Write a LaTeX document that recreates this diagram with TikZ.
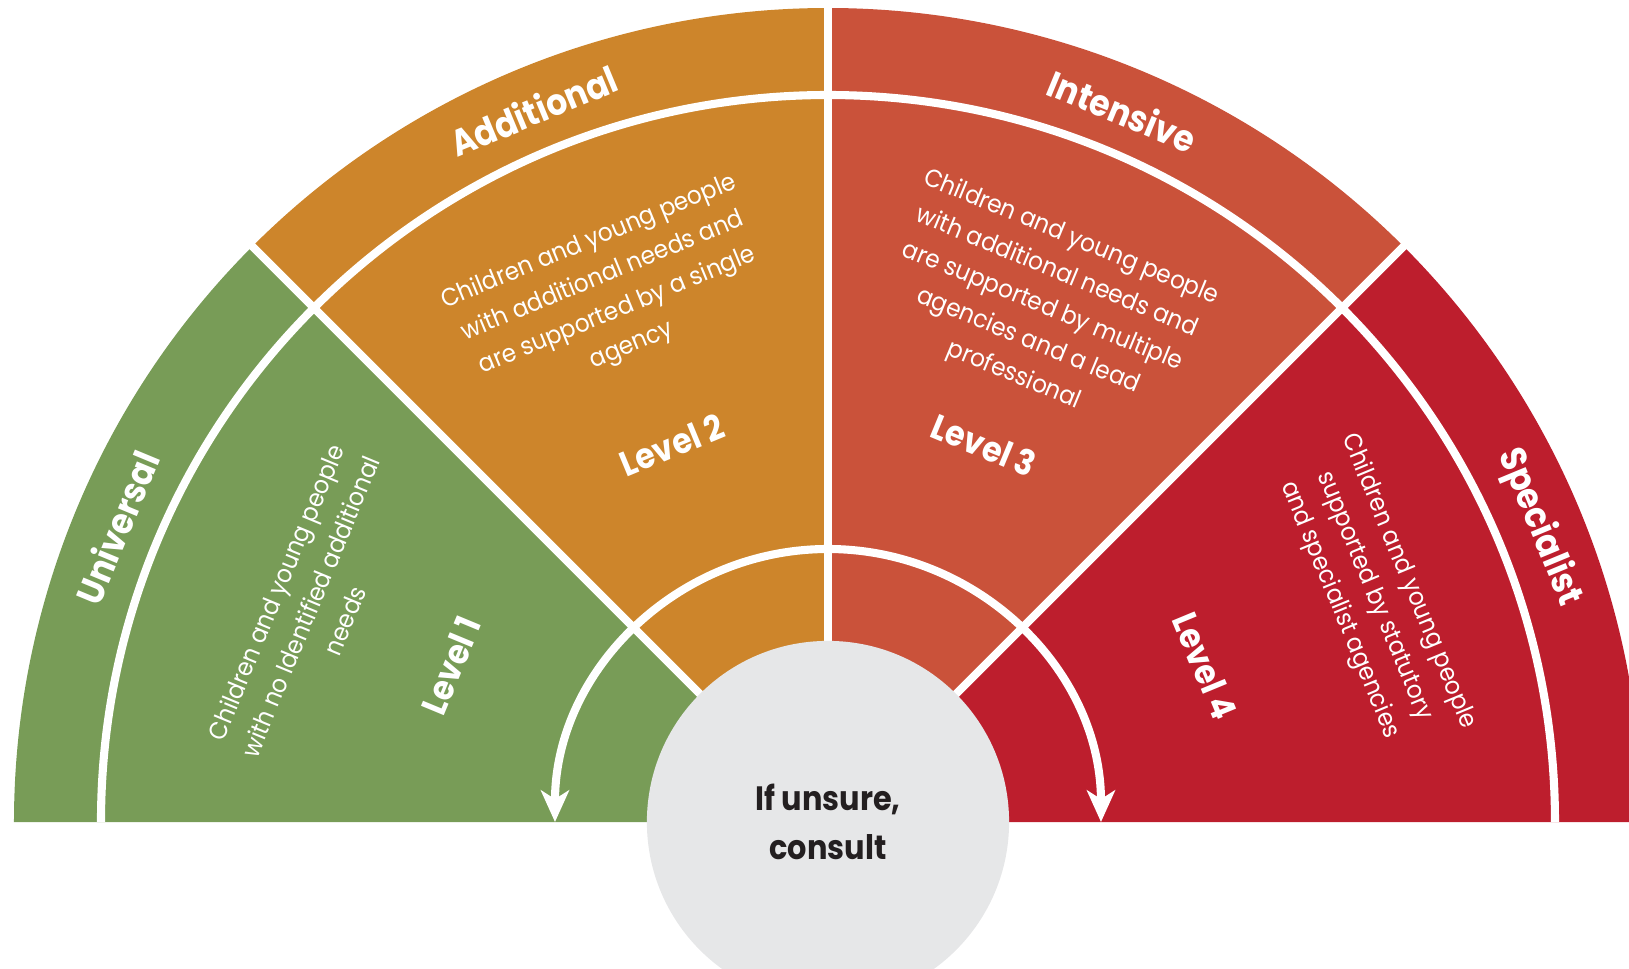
\documentclass[tikz,border=0pt]{standalone}
\usepackage{fontspec}
\setmainfont{Poppins}
\newfontfamily\labelfont{Poppins}[FakeStretch=0.9]
\newfontfamily\blurbfont{Poppins}[FakeStretch=0.93]
\usetikzlibrary{arrows.meta}

\definecolor{univgreen}{HTML}{789C57}
\definecolor{addorange}{HTML}{CD852B}
\definecolor{intred}{HTML}{CA523A}
\definecolor{specred}{HTML}{BD1E2D}
\definecolor{consultgrey}{HTML}{E6E7E8}
\definecolor{consultink}{HTML}{231F20}

\begin{document}
\begin{tikzpicture}[
  x=0.01cm,y=0.01cm,
  divider/.style={white,line width=2.3pt},
  flow/.style={white,line width=2.3pt,-{Stealth[length=9pt,width=8pt,inset=2.5pt]}},
  band/.style={white,font=\labelfont\bfseries\fontsize{10.4}{12}\selectfont},
  level/.style={white,font=\labelfont\bfseries\fontsize{10}{12}\selectfont},
  blurb/.style={white,align=center,font=\blurbfont\fontsize{7.1}{10.6}\selectfont}
]
\useasboundingbox (-828,-147) rectangle (801,822);

% four quarter-sectors, right to left
\foreach \a/\col in {0/specred,45/intred,90/addorange,135/univgreen}
  \fill[\col] (0,0) -- (\a:814) arc[start angle=\a,delta angle=45,radius=814] -- cycle;

% outer ring and spokes
\draw[divider] (727,0) arc[start angle=0,end angle=180,radius=727];
\foreach \a in {45,90,135}
  \draw[divider] (0,0) -- (\a:830);

% escalation arrows
\coordinate (split) at (90:273);
\draw[flow] (split) arc[start angle=90,end angle=180,radius=273];
\draw[flow] (split) arc[start angle=90,end angle=0,radius=273];

\node[circle,fill=consultgrey,text=consultink,minimum size=3.62cm,align=center,
  font=\labelfont\bfseries\fontsize{9.6}{14}\selectfont] (consult) at (0,0) {If unsure,\\consult};

% band titles
\node[band,rotate=67.5] (universal) at (157.5:770) {Universal};
\node[band,rotate=22.5] (additional) at (112.5:770) {Additional};
\node[band,rotate=-22.5] (intensive) at (67.5:770) {Intensive};
\node[band,rotate=-67.5] (specialist) at (22.5:770) {Specialist};

% levels
\node[level,rotate=67.5] (lvl1) at (157.5:408) {Level 1};
\node[level,rotate=22.5] (lvl2) at (112.5:408) {Level 2};
\node[level,rotate=-22.5] (lvl3) at (67.5:408) {Level 3};
\node[level,rotate=-67.5] (lvl4) at (22.5:408) {Level 4};

\node[blurb,rotate=67.5] (txt1) at (157.4:561)
  {Children and young people\\with no Identified additional\\needs};
\node[blurb,rotate=22.5] (txt2) at (112.4:571)
  {Children and young people\\with additional needs and\\are supported by a single\\agency};
\node[blurb,rotate=-22.5] (txt3) at (67.4:558)
  {Children and young people\\with additional needs and\\are supported by multiple\\agencies and a lead\\professional};
\node[blurb,rotate=-67.5] (txt4) at (22.5:591)
  {Children and young people\\supported by statutory\\and specialist agencies};
\end{tikzpicture}
\end{document}
